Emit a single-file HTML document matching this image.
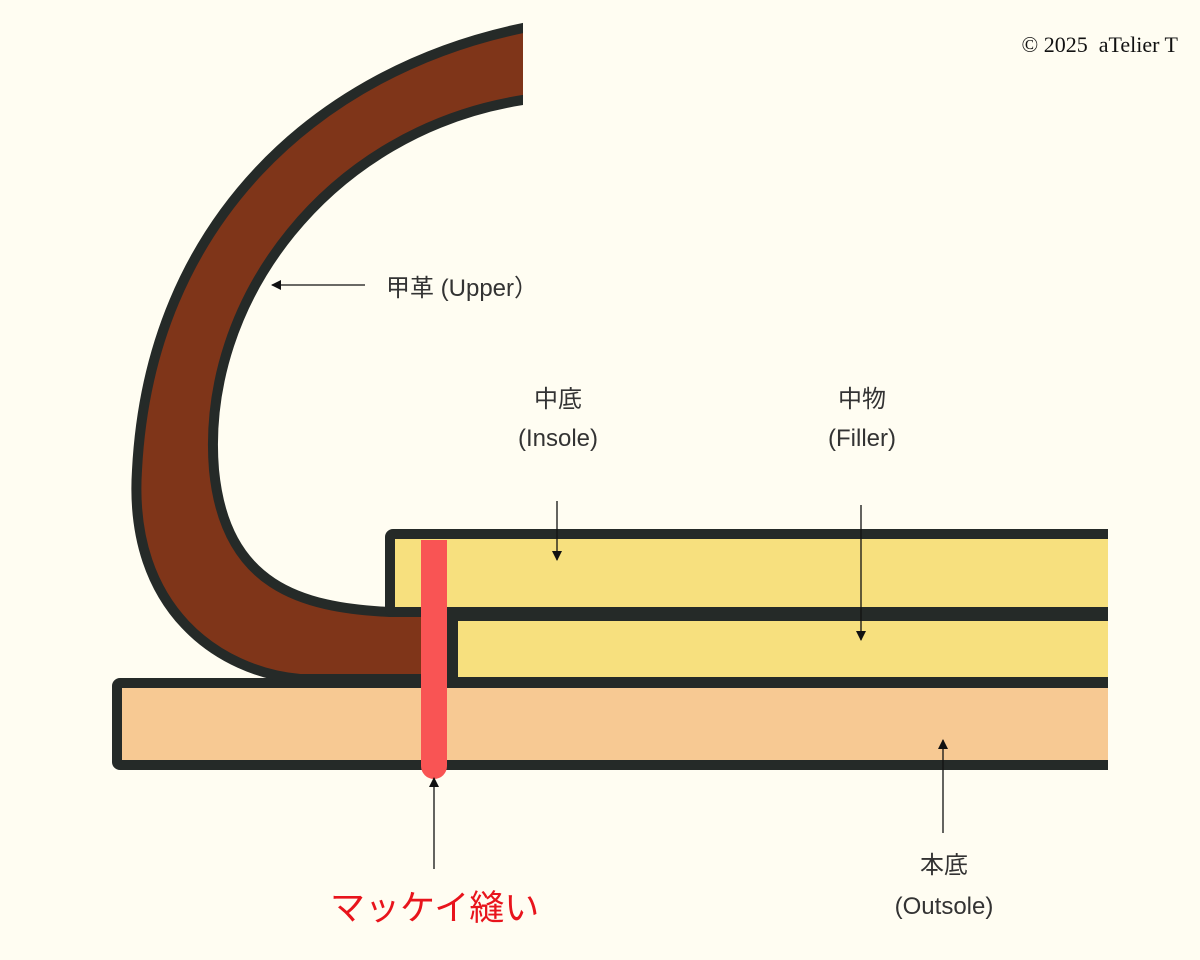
<!DOCTYPE html>
<html><head><meta charset="utf-8"><style>
html,body{margin:0;padding:0;background:#fffdf2;}
svg{display:block;}
.l{font-family:"Liberation Sans","Noto Sans CJK JP",sans-serif;font-size:24px;fill:#333;}
</style></head><body>
<svg width="1200" height="960" viewBox="0 0 1200 960" xmlns="http://www.w3.org/2000/svg">
<defs>
<clipPath id="c"><rect x="0" y="0" width="1108" height="960"/></clipPath>
<clipPath id="u"><rect x="0" y="0" width="523" height="960"/></clipPath>
<marker id="a" markerWidth="10" markerHeight="10" refX="9" refY="5" orient="auto" markerUnits="userSpaceOnUse"><path d="M0,0 L10,5 L0,10 Z" fill="#111"/></marker>
</defs>
<rect width="1200" height="960" fill="#fffdf2"/>
<g clip-path="url(#c)">
<rect x="117" y="683" width="1100" height="82" rx="3" fill="#f7c993" stroke="#252a28" stroke-width="10"/>
<path clip-path="url(#u)" d="M540,25 L523,28 C320,70 150,220 137,470 C128,610 220,672 300,679 L452,679 L452,612 L390,612 C300,608 225,585 214,470 C200,300 330,130 523,100 L540,98 Z" fill="#7f3519" stroke="#252a28" stroke-width="10" stroke-linejoin="round"/>
<rect x="390" y="534" width="800" height="78" rx="3" fill="#f7e07e" stroke="#252a28" stroke-width="10"/>
<rect x="453" y="616" width="800" height="66" fill="#f7e07e" stroke="#252a28" stroke-width="10"/>
</g>
<path d="M421,540 L447,540 L447,766 A13,13 0 0 1 421,766 Z" fill="#f95454"/>
<line x1="365" y1="285" x2="272" y2="285" stroke="#111" stroke-width="1.3" marker-end="url(#a)"/>
<line x1="557" y1="501" x2="557" y2="560" stroke="#111" stroke-width="1.3" marker-end="url(#a)"/>
<line x1="861" y1="505" x2="861" y2="640" stroke="#111" stroke-width="1.3" marker-end="url(#a)"/>
<line x1="943" y1="833" x2="943" y2="740" stroke="#111" stroke-width="1.3" marker-end="url(#a)"/>
<line x1="434" y1="869" x2="434" y2="778" stroke="#111" stroke-width="1.3" marker-end="url(#a)"/>
<text class="l" x="386" y="296">甲革 (Upper）</text>
<text class="l" x="558" y="407" text-anchor="middle">中底</text>
<text class="l" x="558" y="446" text-anchor="middle">(Insole)</text>
<text class="l" x="862" y="407" text-anchor="middle">中物</text>
<text class="l" x="862" y="446" text-anchor="middle">(Filler)</text>
<text class="l" x="944" y="873" text-anchor="middle">本底</text>
<text class="l" x="944" y="914" text-anchor="middle">(Outsole)</text>
<text x="330" y="920" font-family="'Liberation Sans','Noto Sans CJK JP',sans-serif" font-size="35" fill="#e8141c">マッケイ縫い</text>
<text x="1178" y="52" text-anchor="end" font-family="'Liberation Serif',serif" font-size="22" fill="#111" style="white-space:pre" xml:space="preserve">© 2025  aTelier T</text>
</svg>
</body></html>
